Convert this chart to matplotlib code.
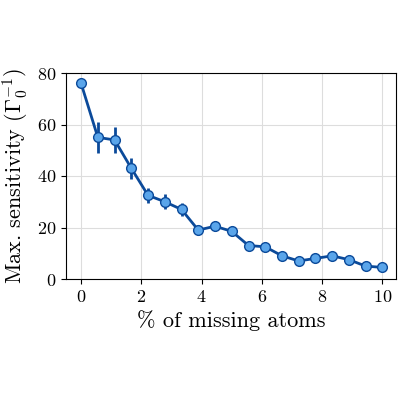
import matplotlib
matplotlib.use('Agg')
import matplotlib.pyplot as plt
import numpy as np

plt.rcParams['font.family'] = 'serif'
plt.rcParams['font.serif'] = ['cmr10']
plt.rcParams['mathtext.fontset'] = 'cm'
plt.rcParams['axes.formatter.use_mathtext'] = True

missing = [0, 0.556, 1.111, 1.667, 2.222, 2.778, 3.333, 3.889, 4.444, 5.0,
           5.556, 6.111, 6.667, 7.222, 7.778, 8.333, 8.889, 9.444, 10.0]
sens = [76, 55, 54, 43, 32.5, 30, 27, 19, 20.5, 18.5,
        13, 12.5, 9, 7, 8, 9, 7.5, 5, 4.5]
err = [1, 6, 5, 4, 3, 3, 2.5, 1.5, 2, 1.5,
       1, 1, 1, 0.8, 0.8, 1, 0.8, 0.6, 0.6]

fig = plt.figure(figsize=(4, 4), dpi=100)
ax = fig.add_axes([0.165, 0.3025, 0.825, 0.515])
ax.errorbar(missing, sens, yerr=err, color='#0b4a9a', lw=2, elinewidth=2,
            marker='o', ms=7, mfc='#5aa5ea', mec='#0b4a9a', mew=1)
ax.set_xlim(-0.5, 10.45)
ax.set_ylim(0, 80)
ax.set_xticks([0, 2, 4, 6, 8, 10])
ax.set_yticks([0, 20, 40, 60, 80])
ax.grid(True, color='#dddddd', lw=0.8)
ax.set_axisbelow(True)
ax.tick_params(labelsize=13)
ax.set_xlabel(r'% of missing atoms', fontsize=16)
ax.set_ylabel(r'Max. sensitivity ($\Gamma_0^{-1}$)', fontsize=16)
fig.savefig('out.png', dpi=100)
